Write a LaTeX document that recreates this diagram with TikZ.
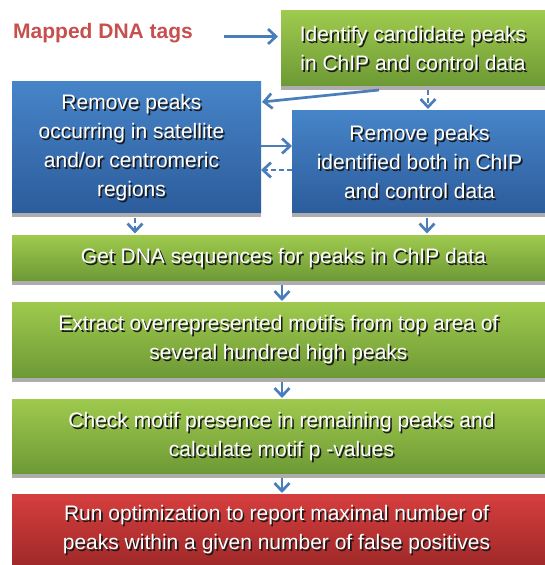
\documentclass[tikz,border=0pt]{standalone}
\usepackage{fontspec}
\setmainfont{Liberation Sans}
\usetikzlibrary{arrows.meta}
\definecolor{gtop}{HTML}{9FCA4E}
\definecolor{gbot}{HTML}{6D9935}
\definecolor{btop}{HTML}{4684C8}
\definecolor{bbot}{HTML}{2C5C9C}
\definecolor{rtop}{HTML}{D63E3E}
\definecolor{rbot}{HTML}{A02929}
\definecolor{arrc}{HTML}{4A7EBB}
\definecolor{shd}{HTML}{ADADAD}
\definecolor{tagred}{HTML}{C6504E}
\tikzset{
  boxbase/.style={anchor=north west, inner sep=0pt, outer sep=0pt, draw=none},
  gbox/.style={boxbase, top color=gtop, bottom color=gbot},
  bbox/.style={boxbase, top color=btop, bottom color=bbot},
  rbox/.style={boxbase, top color=rtop, bottom color=rbot},
  txt/.style={align=center, font=\fontsize{21bp}{29bp}\selectfont, inner sep=0pt},
  arr/.style={draw=arrc, line width=2.7bp, -{Straight Barb[length=8bp,width=15bp]}},
  darr/.style={arr, dash pattern=on 5bp off 3bp},
}
% #1 name, #2 box node, #3 horizontal offset (bp), #4 text
\newcommand\shtext[4]{%
  \node[txt, text=black!90] (#1s) at ([xshift=#3bp+1.6bp, yshift=-1.6bp]#2.center) {#4};
  \node[txt, text=white] (#1) at ([xshift=#3bp]#2.center) {#4};}
\newcommand\shbar[1]{\fill[shd] (#1.south west) rectangle ([yshift=-4bp]#1.south east);}
\begin{document}
\begin{tikzpicture}[x=1bp,y=-1bp]
\useasboundingbox (0,0) rectangle (545,565);
% boxes
\node[gbox, minimum width=264bp, minimum height=75bp] (g1) at (281,11) {};
\node[bbox, minimum width=249bp, minimum height=131bp] (lb) at (12,82) {};
\node[bbox, minimum width=253bp, minimum height=102bp] (rb) at (292,111) {};
\node[gbox, minimum width=533bp, minimum height=46bp] (gd) at (12,235) {};
\node[gbox, minimum width=533bp, minimum height=76bp] (ex) at (12,302) {};
\node[gbox, minimum width=533bp, minimum height=75bp] (ck) at (12,399) {};
\node[rbox, minimum width=533bp, minimum height=71bp] (rd) at (12,494) {};
\shbar{g1}\shbar{lb}\shbar{rb}\shbar{gd}\shbar{ex}\shbar{ck}
% texts
\node[anchor=west, inner sep=0pt, text=tagred, font=\fontsize{21bp}{25bp}\selectfont\bfseries] (tags) at (13,33) {Mapped DNA tags};
\shtext{t1}{g1}{0}{Identify candidate peaks\\in ChIP and control data}
\shtext{t2}{lb}{-5}{Remove peaks\\occurring in satellite\\and/or centromeric\\regions}
\shtext{t3}{rb}{1}{Remove peaks\\identified both in ChIP\\and control data}
\shtext{t4}{gd}{5}{Get DNA sequences for peaks in ChIP data}
\shtext{t5}{ex}{0}{Extract overrepresented motifs from top area of\\several hundred high peaks}
\shtext{t6}{ck}{3}{Check motif presence in remaining peaks and\\calculate motif p -values}
\shtext{t7}{rd}{-2}{Run optimization to report maximal number of\\peaks within a given number of false positives}
% connector coordinates
\coordinate (a1) at (224,36.5);
\coordinate (a2) at (379,90);
\coordinate (a3) at (428,90);
\coordinate (y146) at (0,146);
\coordinate (y170) at (0,170);
\coordinate (a4) at (135,218);
\coordinate (a5) at (427,218);
\coordinate (xc) at (282,0);
% connectors
\draw[arr, shorten >=3bp] (a1) -- (a1 -| g1.west);
\draw[arr] (a2) -- ([shift={(1bp,-20bp)}]lb.north east);
\draw[darr, shorten >=2bp] (a3) -- (a3 |- rb.north);
\draw[arr] (lb.east |- y146) -- (rb.west |- y146);
\draw[darr] (rb.west |- y170) -- (lb.east |- y170);
\draw[darr, shorten >=1.5bp] (a4) -- (a4 |- gd.north);
\draw[arr, shorten >=1.5bp] (a5) -- (a5 |- gd.north);
\draw[arr, shorten >=1bp] ([yshift=-4bp]gd.south -| xc) -- (ex.north -| xc);
\draw[arr, shorten >=1bp] ([yshift=-4bp]ex.south -| xc) -- (ck.north -| xc);
\draw[arr, shorten >=1bp] ([yshift=-4bp]ck.south -| xc) -- (rd.north -| xc);
\end{tikzpicture}
\end{document}
